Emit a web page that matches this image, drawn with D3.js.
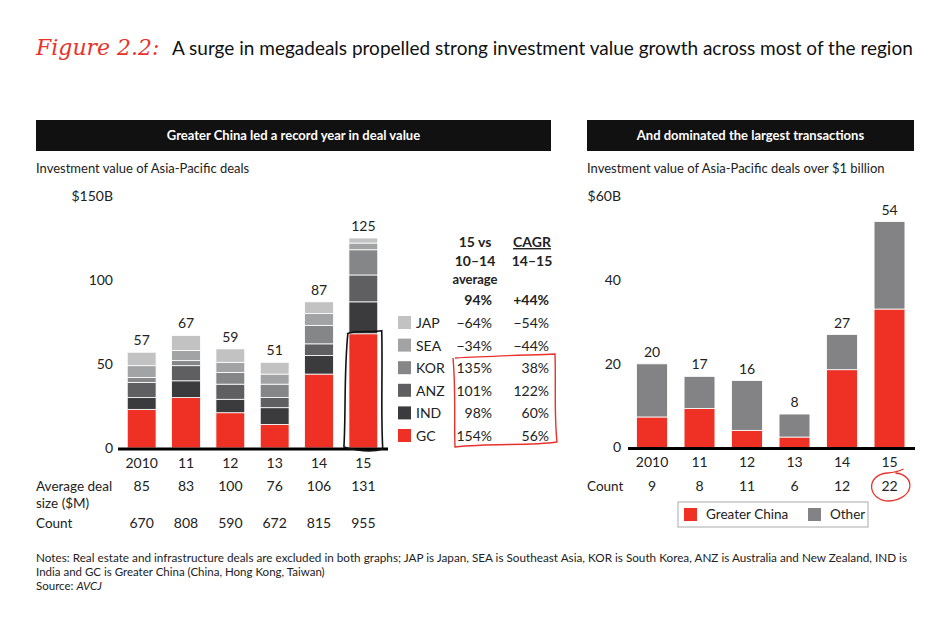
<!DOCTYPE html>
<html>
<head>
<meta charset="utf-8">
<script src="https://cdn.jsdelivr.net/npm/d3@7"></script>
<style>
  body { margin: 0; background: #fff; }
  svg { font-family: Lato, "Open Sans", sans-serif; }
</style>
</head>
<body>
<svg id="chart" width="950" height="628"></svg>
<script>
// data
const years = ['2010', '11', '12', '13', '14', '15'];
const regions = ['GC', 'IND', 'ANZ', 'KOR', 'SEA', 'JAP'];   // bottom to top
const gcValues  = [23, 30, 21, 14, 44, 68];
const indValues = [7, 10, 8, 10, 11, 19];
const anzValues = [9, 9, 9, 6, 7, 16];
const korValues = [3, 3, 7, 8, 11, 15];
const seaValues = [7, 6, 6, 6, 7, 4];
const japValues = [8, 9, 8, 7, 7, 3];
const avgDealSize = [85, 83, 100, 76, 106, 131];
const dealCount = [670, 808, 590, 672, 815, 955];
const vsAverage = {JAP: '\u221264%', SEA: '\u221234%', KOR: '135%', ANZ: '101%', IND: '98%', GC: '154%'};
const cagr = {JAP: '\u221254%', SEA: '\u221244%', KOR: '38%', ANZ: '122%', IND: '60%', GC: '56%'};
const totalVsAverage = '94%';
const totalCagr = '+44%';
const leftTicks = [0, 50, 100, 150];

const megaGc = [7.3, 9.3, 4.1, 2.5, 18.6, 33.1];
const megaOther = [12.7, 7.7, 11.9, 5.5, 8.4, 20.9];
const megaCount = [9, 8, 11, 6, 12, 22];
const rightTicks = [0, 20, 40, 60];

const colors = {GC: '#ee3124', IND: '#3b3b3d', ANZ: '#5f5f61', KOR: '#858688', SEA: '#a2a3a5', JAP: '#c2c2c2'};
const otherColor = '#838386';

const svg = d3.select('#chart');

// title
const title = svg.append('text').attr('x', 36).attr('y', 55).attr('font-size', 19);
title.append('tspan')
  .attr('fill', '#e8322b')
  .attr('font-family', '"DejaVu Serif", serif')
  .attr('font-style', 'italic')
  .attr('font-size', 22)
  .text('Figure 2.2: ');
title.append('tspan')
  .attr('x', 172)
  .attr('fill', '#111')
  .text('A surge in megadeals propelled strong investment value growth across most of the region');

// header bars
function header(x, w, txt) {
  svg.append('rect').attr('x', x).attr('y', 120).attr('width', w).attr('height', 31).attr('fill', '#111');
  svg.append('text').attr('x', x + w / 2).attr('y', 140)
    .attr('text-anchor', 'middle').attr('fill', '#fff')
    .attr('font-size', 13).attr('font-weight', 'bold')
    .text(txt);
}
header(36, 515, 'Greater China led a record year in deal value');
header(587, 327, 'And dominated the largest transactions');

svg.append('text').attr('x', 36).attr('y', 173).attr('font-size', 13).attr('fill', '#222')
  .text('Investment value of Asia-Pacific deals');
svg.append('text').attr('x', 587).attr('y', 173).attr('font-size', 13).attr('fill', '#222')
  .text('Investment value of Asia-Pacific deals over $1 billion');

// ---------- left chart ----------
const table = years.map((y, i) => ({
  year: y, GC: gcValues[i], IND: indValues[i], ANZ: anzValues[i],
  KOR: korValues[i], SEA: seaValues[i], JAP: japValues[i]
}));
const stack = d3.stack().keys(regions)(table);

const xL = d3.scaleBand().domain(years).range([119.5, 385.5]).paddingInner(0.35).paddingOuter(0.175);
const yL = d3.scaleLinear().domain([0, 150]).range([448, 196]);

const axL = svg.append('g').attr('transform', 'translate(113,0)')
  .call(d3.axisLeft(yL).tickValues(leftTicks).tickSize(0).tickPadding(0)
    .tickFormat(d => d === 150 ? '$150B' : d));
axL.select('.domain').remove();
axL.selectAll('text').attr('font-size', 14).attr('fill', '#222').attr('font-family', 'Lato, sans-serif');

svg.append('g').selectAll('g').data(stack).join('g')
  .attr('fill', d => colors[d.key])
  .selectAll('rect').data(d => d).join('rect')
  .attr('x', d => xL(d.data.year))
  .attr('width', xL.bandwidth())
  .attr('y', d => yL(d[1]))
  .attr('height', d => yL(d[0]) - yL(d[1]))
  .attr('stroke', '#fff').attr('stroke-width', 0.8);

svg.append('g').selectAll('text').data(table).join('text')
  .attr('x', d => xL(d.year) + xL.bandwidth() / 2)
  .attr('y', d => yL(d3.sum(regions, k => d[k])) - 7)
  .attr('text-anchor', 'middle').attr('font-size', 14).attr('fill', '#222')
  .text(d => d3.sum(regions, k => d[k]));

svg.append('line').attr('x1', 118).attr('x2', 388).attr('y1', yL(0) + 1).attr('y2', yL(0) + 1)
  .attr('stroke', '#000').attr('stroke-width', 3);

const axLB = svg.append('g').attr('transform', `translate(0,${yL(0) + 1})`)
  .call(d3.axisBottom(xL).tickSize(0).tickPadding(9));
axLB.select('.domain').remove();
axLB.selectAll('text').attr('font-size', 14).attr('fill', '#222').attr('font-family', 'Lato, sans-serif');

svg.append('text').attr('x', 36).attr('y', 491).attr('font-size', 13.5).attr('fill', '#222').text('Average deal');
svg.append('text').attr('x', 36).attr('y', 508).attr('font-size', 13.5).attr('fill', '#222').text('size ($M)');
svg.append('text').attr('x', 36).attr('y', 528).attr('font-size', 13.5).attr('fill', '#222').text('Count');
svg.append('g').selectAll('text').data(avgDealSize).join('text')
  .attr('x', (d, i) => xL(years[i]) + xL.bandwidth() / 2).attr('y', 491)
  .attr('text-anchor', 'middle').attr('font-size', 14).attr('fill', '#222').text(d => d);
svg.append('g').selectAll('text').data(dealCount).join('text')
  .attr('x', (d, i) => xL(years[i]) + xL.bandwidth() / 2).attr('y', 528)
  .attr('text-anchor', 'middle').attr('font-size', 14).attr('fill', '#222').text(d => d);

// hand drawn outline round the 2015 GC bar
{
  const x0 = xL('15') - 4, x1 = xL('15') + xL.bandwidth() + 4;
  const y0 = yL(gcValues[5]) - 2, y1 = yL(0) + 3;
  svg.append('path')
    .attr('d', `M${x0 + 2},${y0 + 2} C${x0 + 12},${y0 - 2} ${x1 - 10},${y0 + 1} ${x1},${y0 - 1}
      C${x1 + 1},${y0 + 40} ${x1 - 1},${y1 - 40} ${x1 + 1},${y1 - 2}
      C${x1 - 12},${y1 + 2} ${x0 + 10},${y1 - 1} ${x0 - 1},${y1 - 4}
      C${x0 + 1},${y1 - 40} ${x0 - 1},${y0 + 40} ${x0 + 3},${y0 + 1}`)
    .attr('fill', 'none').attr('stroke', '#111').attr('stroke-width', 1.6);
}

// legend / growth table
const tbl = svg.append('g').attr('font-size', 14).attr('fill', '#222');
[['15 vs', 247], ['10\u201314', 266], ['average', 284]].forEach(([t, y]) => {
  tbl.append('text').attr('x', 475).attr('y', y).attr('text-anchor', 'middle')
    .attr('font-weight', 'bold').attr('font-size', t === 'average' ? 13 : 14).text(t);
});
tbl.append('text').attr('x', 532).attr('y', 247).attr('text-anchor', 'middle')
  .attr('font-weight', 'bold').attr('text-decoration', 'underline').text('CAGR');
tbl.append('text').attr('x', 532).attr('y', 266).attr('text-anchor', 'middle')
  .attr('font-weight', 'bold').text('14\u201315');
tbl.append('text').attr('x', 492).attr('y', 305).attr('text-anchor', 'end').attr('font-weight', 'bold').text(totalVsAverage);
tbl.append('text').attr('x', 549).attr('y', 305).attr('text-anchor', 'end').attr('font-weight', 'bold').text(totalCagr);

const legendOrder = regions.slice().reverse();
const rowY = d3.scalePoint().domain(legendOrder).range([323, 436]);
const rows = tbl.selectAll('g.row').data(legendOrder).join('g').attr('class', 'row')
  .attr('transform', d => `translate(0,${rowY(d)})`);
rows.append('rect').attr('x', 398).attr('y', -7).attr('width', 13).attr('height', 13)
  .attr('fill', d => colors[d]);
rows.append('text').attr('x', 416).attr('y', 5).text(d => d);
rows.append('text').attr('x', 492).attr('y', 5).attr('text-anchor', 'end').text(d => vsAverage[d]);
rows.append('text').attr('x', 549).attr('y', 5).attr('text-anchor', 'end').text(d => cagr[d]);

svg.append('path')
  .attr('d', 'M455,358 C490,356 530,355 555,354 C556,385 554,415 557,442 C530,446 490,443 455,447 C454,420 456,390 453,358')
  .attr('fill', 'none').attr('stroke', '#e8322b').attr('stroke-width', 1.4);

// ---------- right chart ----------
const xR = d3.scaleBand().domain(years).range([628.25, 913.25]).paddingInner(0.35).paddingOuter(0.175);
const yR = d3.scaleLinear().domain([0, 60]).range([447.5, 196.5]);

const axR = svg.append('g').attr('transform', 'translate(621,0)')
  .call(d3.axisLeft(yR).tickValues(rightTicks).tickSize(0).tickPadding(0)
    .tickFormat(d => d === 60 ? '$60B' : d));
axR.select('.domain').remove();
axR.selectAll('text').attr('font-size', 14).attr('fill', '#222').attr('font-family', 'Lato, sans-serif');

const mega = years.map((y, i) => ({year: y, gc: megaGc[i], other: megaOther[i]}));
const megaStack = d3.stack().keys(['gc', 'other'])(mega);
const megaColors = {gc: colors.GC, other: otherColor};

svg.append('g').selectAll('g').data(megaStack).join('g')
  .attr('fill', d => megaColors[d.key])
  .selectAll('rect').data(d => d).join('rect')
  .attr('x', d => xR(d.data.year))
  .attr('width', xR.bandwidth())
  .attr('y', d => yR(d[1]))
  .attr('height', d => yR(d[0]) - yR(d[1]))
  .attr('stroke', '#fff').attr('stroke-width', 0.8);

svg.append('g').selectAll('text').data(mega).join('text')
  .attr('x', d => xR(d.year) + xR.bandwidth() / 2)
  .attr('y', d => yR(d.gc + d.other) - 7)
  .attr('text-anchor', 'middle').attr('font-size', 14).attr('fill', '#222')
  .text(d => Math.round(d.gc + d.other));

svg.append('line').attr('x1', 628).attr('x2', 915).attr('y1', yR(0) + 1).attr('y2', yR(0) + 1)
  .attr('stroke', '#000').attr('stroke-width', 3);

const axRB = svg.append('g').attr('transform', `translate(0,${yR(0) + 1})`)
  .call(d3.axisBottom(xR).tickSize(0).tickPadding(9));
axRB.select('.domain').remove();
axRB.selectAll('text').attr('font-size', 14).attr('fill', '#222').attr('font-family', 'Lato, sans-serif');

svg.append('text').attr('x', 587).attr('y', 491).attr('font-size', 13.5).attr('fill', '#222').text('Count');
svg.append('g').selectAll('text').data(megaCount).join('text')
  .attr('x', (d, i) => xR(years[i]) + xR.bandwidth() / 2).attr('y', 491)
  .attr('text-anchor', 'middle').attr('font-size', 14).attr('fill', '#222').text(d => d);

svg.append('path')
  .attr('d', () => {
    const cx = xR('15') + xR.bandwidth() / 2, cy = 487;
    return `M${cx + 6},${cy - 14} C${cx + 27},${cy - 12} ${cx + 25},${cy + 12} ${cx},${cy + 14}
      C${cx - 22},${cy + 14} ${cx - 25},${cy - 12} ${cx - 2},${cy - 14} C${cx + 4},${cy - 14.5} ${cx + 10},${cy - 16} ${cx + 14},${cy - 18}`;
  })
  .attr('fill', 'none').attr('stroke', '#e8322b').attr('stroke-width', 1.3);

// legend box
svg.append('rect').attr('x', 678).attr('y', 502).attr('width', 190).attr('height', 25)
  .attr('fill', '#fff').attr('stroke', '#aaa').attr('stroke-width', 1);
svg.append('rect').attr('x', 684).attr('y', 508).attr('width', 13).attr('height', 13).attr('fill', colors.GC);
svg.append('text').attr('x', 706).attr('y', 519).attr('font-size', 13.5).attr('fill', '#222').text('Greater China');
svg.append('rect').attr('x', 808).attr('y', 508).attr('width', 13).attr('height', 13).attr('fill', otherColor);
svg.append('text').attr('x', 830).attr('y', 519).attr('font-size', 13.5).attr('fill', '#222').text('Other');

// notes
const notes = svg.append('g').attr('font-size', 11.5).attr('fill', '#222');
notes.append('text').attr('x', 36).attr('y', 562)
  .attr('textLength', 871).attr('lengthAdjust', 'spacingAndGlyphs')
  .text('Notes: Real estate and infrastructure deals are excluded in both graphs; JAP is Japan, SEA is Southeast Asia, KOR is South Korea, ANZ is Australia and New Zealand, IND is');
notes.append('text').attr('x', 36).attr('y', 576)
  .text('India and GC is Greater China (China, Hong Kong, Taiwan)');
const src = notes.append('text').attr('x', 36).attr('y', 590);
src.append('tspan').text('Source: ');
src.append('tspan').attr('font-style', 'italic').text('AVCJ');
</script>
</body>
</html>
